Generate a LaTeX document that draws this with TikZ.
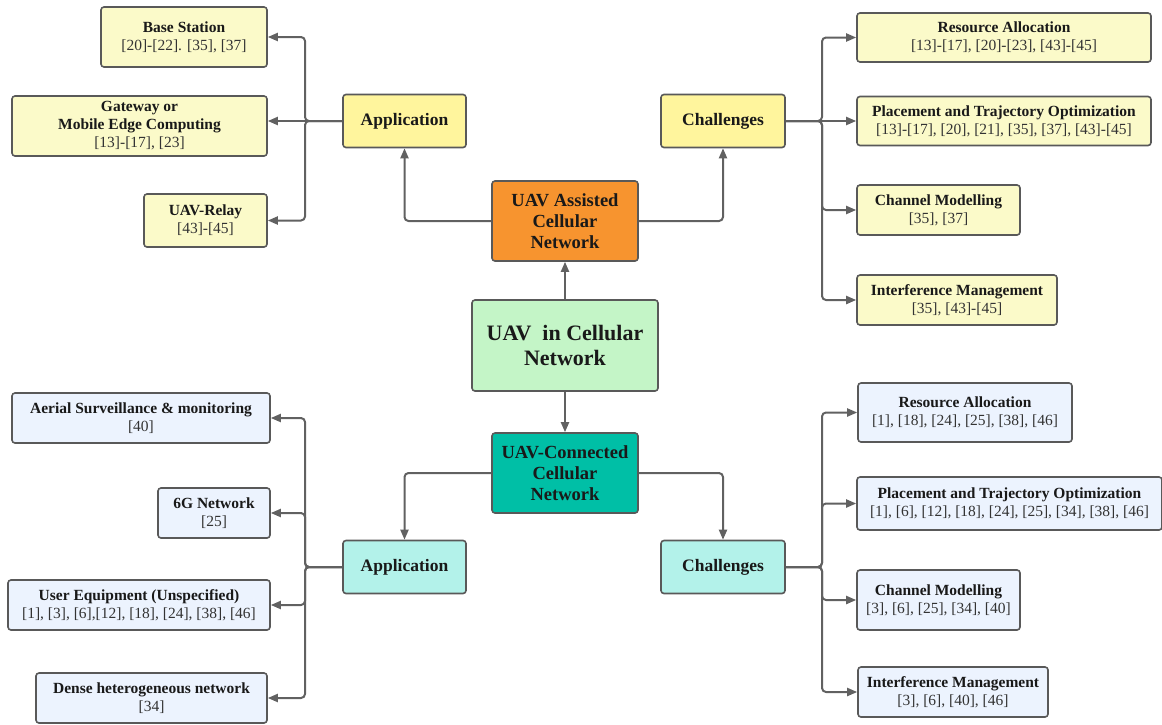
\documentclass[tikz,border=0pt]{standalone}
\usepackage{fontspec}
\setmainfont{Liberation Serif}
\usetikzlibrary{arrows.meta}
\definecolor{boxline}{HTML}{595959}
\definecolor{wire}{HTML}{616161}
\definecolor{leafyellow}{HTML}{FBFAC9}
\definecolor{headyellow}{HTML}{FFF59D}
\definecolor{assistorange}{HTML}{F7942F}
\definecolor{coregreen}{HTML}{C4F5C7}
\definecolor{connteal}{HTML}{00BFA6}
\definecolor{headcyan}{HTML}{B3F2EA}
\definecolor{leafblue}{HTML}{ECF3FE}
\newcommand{\leaftext}[2]{\textbf{#1}\\\relax {\color{black!80}#2}}
\tikzset{
    box/.style={
        draw=boxline,         % border colour
        line width=1.6pt,     % border width
        rounded corners=3pt,  % soft corners
        align=center,
        inner sep=2pt,
        text=black!90,
        font=\fontsize{15.5}{18}\selectfont
    },
    leafA/.style={box, fill=leafyellow},
    leafB/.style={box, fill=leafblue},
    headA/.style={box, fill=headyellow, font=\fontsize{17.5}{20}\bfseries\selectfont},
    headB/.style={box, fill=headcyan, font=\fontsize{17.5}{20}\bfseries\selectfont},
    midbox/.style={box, font=\fontsize{18.5}{21}\bfseries\selectfont},
    conn/.style={
        draw=wire,
        line width=2pt,
        rounded corners=4pt,
        -{Triangle[length=10pt,width=8pt]}
    }
}
\begin{document}
\begin{tikzpicture}[x=1pt, y=-1pt]
\useasboundingbox (0,0) rectangle (1162,724);

% trunk points
\coordinate (jAL) at (305,121);
\coordinate (jAR) at (822,121);
\coordinate (jBL) at (305,567);
\coordinate (jBR) at (822,567);

% centre column
\node[box, fill=coregreen, minimum width=186, minimum height=91,
      font=\fontsize{22}{25}\bfseries\selectfont] (core) at (565,345.5) {UAV\ \ in Cellular\\Network};
\node[midbox, fill=assistorange, minimum width=146, minimum height=80] (asst) at (565,221) {UAV Assisted\\Cellular\\Network};
\node[midbox, fill=connteal, minimum width=146, minimum height=80] (cnct) at (565,473) {UAV-Connected\\Cellular\\Network};

\node[headA, minimum width=123, minimum height=53] (appA) at (404.5,121) {Application};
\node[headA, minimum width=124, minimum height=53] (chA) at (723,121) {Challenges};
\node[headB, minimum width=123, minimum height=53] (appB) at (404.5,567) {Application};
\node[headB, minimum width=124, minimum height=53] (chB) at (723,567) {Challenges};

% assisted: application
\node[leafA, minimum width=166, minimum height=60] (bsA) at (184,37) {\leaftext{Base Station}{[20]-[22]. [35], [37]}};
\node[leafA, minimum width=255, minimum height=60] (gwA) at (139.5,126) {\textbf{Gateway or}\\\leaftext{Mobile Edge Computing}{[13]-[17], [23]}};
\node[leafA, minimum width=123, minimum height=53] (rlA) at (205.5,220.5) {\leaftext{UAV-Relay}{[43]-[45]}};

% assisted: challenges
\node[leafA, minimum width=294, minimum height=49] (raA) at (1004,37.5) {\leaftext{Resource Allocation}{[13]-[17], [20]-[23], [43]-[45]}};
\node[leafA, minimum width=294, minimum height=49] (ptA) at (1004,121) {\leaftext{Placement and Trajectory Optimization}{[13]-[17], [20], [21], [35], [37], [43]-[45]}};
\node[leafA, minimum width=163, minimum height=50] (cmA) at (938.5,210) {\leaftext{Channel Modelling}{[35], [37]}};
\node[leafA, minimum width=200, minimum height=50] (imA) at (957,300) {\leaftext{Interference Management}{[35], [43]-[45]}};

% connected: application
\node[leafB, minimum width=258, minimum height=50] (asB) at (141,418) {\leaftext{Aerial Surveillance \& monitoring}{[40]}};
\node[leafB, minimum width=112, minimum height=50] (sgB) at (214,513) {\leaftext{6G Network}{[25]}};
\node[leafB, minimum width=262, minimum height=50] (ueB) at (139,605) {\leaftext{User Equipment (Unspecified)}{[1], [3], [6],[12], [18], [24], [38], [46]}};
\node[leafB, minimum width=231, minimum height=50] (dhB) at (151.5,698) {\leaftext{Dense heterogeneous network}{[34]}};

% connected: challenges
\node[leafB, minimum width=214, minimum height=59] (raB) at (965,412.5) {\leaftext{Resource Allocation}{[1], [18], [24], [25], [38], [46]}};
\node[leafB, minimum width=305, minimum height=53] (ptB) at (1009.5,503.5) {\leaftext{Placement and Trajectory Optimization}{[1], [6], [12], [18], [24], [25], [34], [38], [46]}};
\node[leafB, minimum width=163, minimum height=60] (cmB) at (938.5,600) {\leaftext{Channel Modelling}{[3], [6], [25], [34], [40]}};
\node[leafB, minimum width=190, minimum height=50] (imB) at (953,692) {\leaftext{Interference Management}{[3], [6], [40], [46]}};

% connectors
\draw[conn] (core.north) -- (asst.south);
\draw[conn] (core.south) -- (cnct.north);
\draw[conn] (asst.west) -| (appA.south);
\draw[conn] (asst.east) -| (chA.south);
\draw[conn] (cnct.west) -| (appB.north);
\draw[conn] (cnct.east) -| (chB.north);

\draw[conn] (appA.west) -- (jAL) |- (bsA.east);
\draw[conn] (appA.west) -- (gwA.east |- appA.west);
\draw[conn] (appA.west) -- (jAL) |- (rlA.east);

\draw[conn] (chA.east) -- (jAR) |- (raA.west);
\draw[conn] (chA.east) -- (ptA.west);
\draw[conn] (chA.east) -- (jAR) |- (cmA.west);
\draw[conn] (chA.east) -- (jAR) |- (imA.west);

\draw[conn] (appB.west) -- (jBL) |- (asB.east);
\draw[conn] (appB.west) -- (jBL) |- (sgB.east);
\draw[conn] (appB.west) -- (jBL) |- (ueB.east);
\draw[conn] (appB.west) -- (jBL) |- (dhB.east);

\draw[conn] (chB.east) -- (jBR) |- (raB.west);
\draw[conn] (chB.east) -- (jBR) |- (ptB.west);
\draw[conn] (chB.east) -- (jBR) |- (cmB.west);
\draw[conn] (chB.east) -- (jBR) |- (imB.west);

\end{tikzpicture}
\end{document}
